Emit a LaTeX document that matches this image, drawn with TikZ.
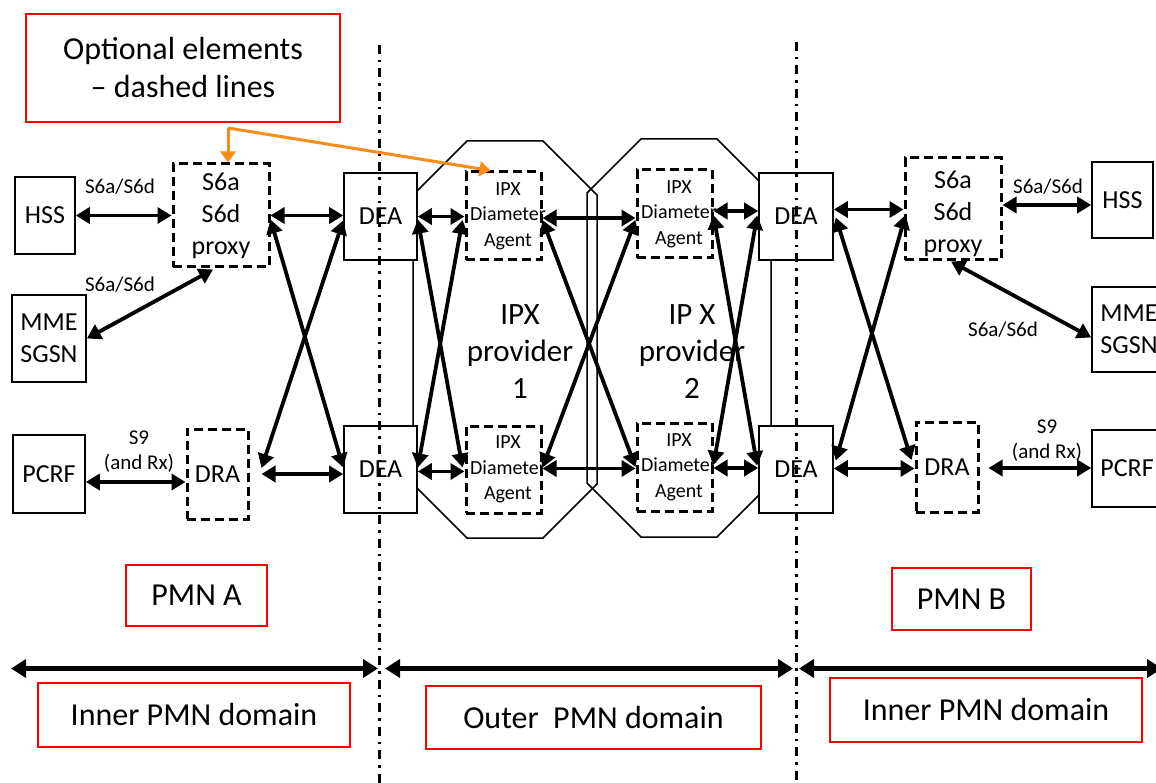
\documentclass[tikz,border=0pt]{standalone}
\usepackage{fontspec}
\setmainfont{Carlito}
\usetikzlibrary{arrows.meta,calc}
\definecolor{calloutorange}{RGB}{247,140,25}
\begin{document}
\begin{tikzpicture}[x=1pt,y=-1pt,
  box/.style={draw, line width=1.6pt, fill=white, inner sep=0pt, align=center, font=\fontsize{26}{32}\selectfont},
  dbox/.style={box, line width=3pt, dash pattern=on 9pt off 5pt},
  redbox/.style={draw=red, line width=2pt, inner sep=0pt, align=center, font=\fontsize{32}{38}\selectfont},
  lbl/.style={font=\fontsize{21}{25}\selectfont, align=center, inner sep=0pt},
  ipxlbl/.style={font=\fontsize{20}{25.5}\selectfont, align=center, inner sep=0pt},
  big/.style={font=\fontsize{31}{37}\selectfont, align=center, inner sep=0pt},
  arr/.style={line width=3.8pt, {Triangle[length=14pt,width=16pt]}-{Triangle[length=14pt,width=16pt]}},
  domarr/.style={line width=5pt, {Triangle[length=15pt,width=18pt]}-{Triangle[length=15pt,width=18pt]}},
  octo/.style={draw, line width=1.5pt},
  divider/.style={line width=3pt, dash pattern=on 9pt off 6pt on 2.5pt off 6pt},
  optarrow/.style={draw=calloutorange, line width=3pt, -{Triangle[length=11pt,width=15pt]}}
]
\useasboundingbox (0,0) rectangle (1156,783);
\clip (0,0) rectangle (1156,783);

% IPX provider octagons
\draw[octo] (413,195) -- (467,141) -- (543,141) -- (597,195) -- (597,484) -- (543,538) -- (467,538) -- (413,484) -- cycle;
\draw[octo] (587,193) -- (641,139) -- (717,139) -- (771,193) -- (771,483) -- (717,537) -- (641,537) -- (587,483) -- cycle;

% callout
\node[redbox, minimum width=314pt, minimum height=108pt] (callout) at (183,68) {Optional elements\\– dashed lines};

% PMN A elements
\node[box, minimum width=60pt, minimum height=77pt] (hssL) at (45,215.5) {HSS};
\node[dbox, minimum width=96pt, minimum height=103pt] (proxyL) at (221,215.5) {S6a\\S6d\\proxy};
\node[box, minimum width=74pt, minimum height=87pt] (mmeL) at (49,338.5) {MME\\SGSN};
\node[box, minimum width=72pt, minimum height=78pt] (pcrfL) at (49,474) {PCRF};
\node[dbox, minimum width=61pt, minimum height=90pt] (draL) at (217.5,474) {DRA};
\node[box, minimum width=73pt, minimum height=87pt] (deaTL) at (380.5,216.5) {DEA};
\node[box, minimum width=73pt, minimum height=87pt] (deaBL) at (380.5,469.5) {DEA};

% IPX diameter agents
\node[dbox, minimum width=75pt, minimum height=88pt, label={[ipxlbl,xshift=4.5pt]center:{IPX\\Diameter\\Agent}}] (ipxTL) at (503.5,216) {};
\node[dbox, minimum width=75pt, minimum height=87pt, label={[ipxlbl,xshift=4.5pt]center:{IPX\\Diameter\\Agent}}] (ipxBL) at (503.5,469.5) {};
\node[dbox, minimum width=75pt, minimum height=88pt, label={[ipxlbl,xshift=4.5pt]center:{IPX\\Diameter\\Agent}}] (ipxTR) at (674.5,214) {};
\node[dbox, minimum width=75pt, minimum height=88pt, label={[ipxlbl,xshift=4.5pt]center:{IPX\\Diameter\\Agent}}] (ipxBR) at (674.5,467) {};
\node[big] (ipx1) at (520,352) {IPX\\provider\\1};
\node[big] (ipx2) at (692,352) {IP X\\provider\\2};

% PMN B elements
\node[box, minimum width=74pt, minimum height=87pt] (deaTR) at (796,216.5) {DEA};
\node[box, minimum width=74pt, minimum height=87pt] (deaBR) at (796,469.5) {DEA};
\node[dbox, minimum width=96pt, minimum height=102pt, label={[font=\fontsize{26}{32}\selectfont,align=center,inner sep=0pt,yshift=-5pt]center:{S6a\\S6d\\proxy}}] (proxyR) at (953,209) {};
\node[dbox, minimum width=62pt, minimum height=90pt] (draR) at (947,467) {DRA};
\node[box, minimum width=61pt, minimum height=76pt] (hssR) at (1122.5,200) {HSS};
\node[box, minimum width=74pt, minimum height=85pt] (mmeR) at (1129,329.5) {MME\\SGSN};
\node[box, minimum width=74pt, minimum height=77pt, label={[font=\fontsize{26}{32}\selectfont,inner sep=0pt,xshift=-2pt]center:PCRF}] (pcrfR) at (1129,468.5) {};

% connectors PMN A
\draw[arr] (hssL.east) -- (proxyL.west |- hssL.east);
\node[lbl] (l1) at (120,187) {S6a/S6d};
\draw[arr] (mmeL.east) -- ($(proxyL.south)+(-8,1)$);
\node[lbl] (l2) at (120,285) {S6a/S6d};
\draw[arr] ($(pcrfL.east)+(0,8)$) -- ($(draL.west)+(0,8)$);
\node[lbl] (l3) at (139,452) {S9\\(and Rx)};
\draw[arr] ($(draL.east)+(12,0)$) -- (draL.east -| deaBL.west);
\draw[arr] (proxyL.east) -- (proxyL.east -| deaTL.west);
\draw[arr] ($(proxyL.east)+(0,4)$) -- ($(deaBL.west)+(0,-2)$);
\draw[arr] ($(draL.east)+(12,-6)$) -- ($(deaTL.west)+(0,4)$);

% connectors outer domain
\draw[arr] (deaTL.east) -- (deaTL.east -| ipxTL.west);
\draw[arr] ($(deaBL.east)+(0,2)$) -- ($(deaBL.east -| ipxBL.west)+(0,2)$);
\draw[arr] ($(deaTL.east)+(0,3)$) -- ($(ipxBL.west)+(-2,-2)$);
\draw[arr] ($(deaBL.east)+(0,-2)$) -- ($(ipxTL.west)+(-2,4)$);
\draw[arr] ($(ipxTL.east)+(0,2)$) -- ($(ipxTL.east -| ipxTR.west)+(0,2)$);
\draw[arr] ($(ipxBL.east)+(0,-1)$) -- ($(ipxBL.east -| ipxBR.west)+(0,-1)$);
\draw[arr] ($(ipxTL.east)+(0,4)$) -- (ipxBR.west);
\draw[arr] ($(ipxBL.east)+(0,-2)$) -- ($(ipxTR.west)+(0,6)$);
\draw[arr] ($(ipxTR.east)+(0,-3)$) -- ($(ipxTR.east -| deaTR.west)+(0,-3)$);
\draw[arr] ($(ipxBR.east)+(0,1)$) -- ($(ipxBR.east -| deaBR.west)+(0,1)$);
\draw[arr] ($(ipxTR.east)+(0,1)$) -- ($(deaBR.west)+(-1,-4)$);
\draw[arr] ($(deaTR.west)+(-1,-1)$) -- ($(ipxBR.east)+(0,-2)$);

% connectors PMN B
\draw[arr] ($(deaTR.east)+(0,-7)$) -- ($(deaTR.east -| proxyR.west)+(0,-7)$);
\draw[arr] ($(deaTR.east)+(2,1)$) -- ($(draR.west)+(-3,-7)$);
\draw[arr] ($(deaBR.east)+(2,-9)$) -- ($(proxyR.west)+(2,6)$);
\draw[arr] ($(deaBR.east)+(0,-1)$) -- ($(deaBR.east -| draR.west)+(0,-1)$);
\draw[arr] ($(proxyR.east)+(0,-4)$) -- ($(proxyR.east -| hssR.west)+(0,-4)$);
\node[lbl] (l4) at (1048,187) {S6a/S6d};
\draw[arr] ($(proxyR.south)+(-2,0)$) -- ($(mmeR.west)+(0,8)$);
\node[lbl] (l5) at (1003,330) {S6a/S6d};
\draw[arr] ($(draR.east)+(9,1)$) -- ($(draR.east -| pcrfR.west)+(0,1)$);
\node[lbl] (l6) at (1047,441) {S9\\(and Rx)};

% bottom labels
\node[redbox, minimum width=141pt, minimum height=61pt] (pmnA) at (196.5,595.5) {PMN A};
\node[redbox, minimum width=139pt, minimum height=62pt] (pmnB) at (961.5,599) {PMN B};
\node[redbox, minimum width=312pt, minimum height=64pt] (innerL) at (194,715) {Inner PMN domain};
\node[redbox, minimum width=335pt, minimum height=63pt] (outer) at (593.5,717.5) {Outer~~PMN domain};
\node[redbox, minimum width=312pt, minimum height=64pt] (innerR) at (986,710) {Inner PMN domain};

% domain arrows
\coordinate (dA1) at (11,668.5);
\coordinate (dA2) at (378,668.5);
\coordinate (dB1) at (385,668.5);
\coordinate (dB2) at (793,668.5);
\coordinate (dC1) at (799,668.5);
\coordinate (dC2) at (1162,668.5);
\draw[domarr] (dA1) -- (dA2);
\draw[domarr] (dB1) -- (dB2);
\draw[domarr] (dC1) -- (dC2);

% domain dividers
\coordinate (v1t) at (379,45);
\coordinate (v1b) at (379,783);
\coordinate (v2t) at (796,42);
\coordinate (v2b) at (796,783);
\draw[divider] (v1t) -- (v1b);
\draw[divider] (v2t) -- (v2b);

% callout pointers
\coordinate (org) at (228,128);
\draw[optarrow] (org) -- (org |- proxyL.north);
\draw[optarrow] (org) -- ($(ipxTL.north west)+(26,0)$);
\end{tikzpicture}
\end{document}
